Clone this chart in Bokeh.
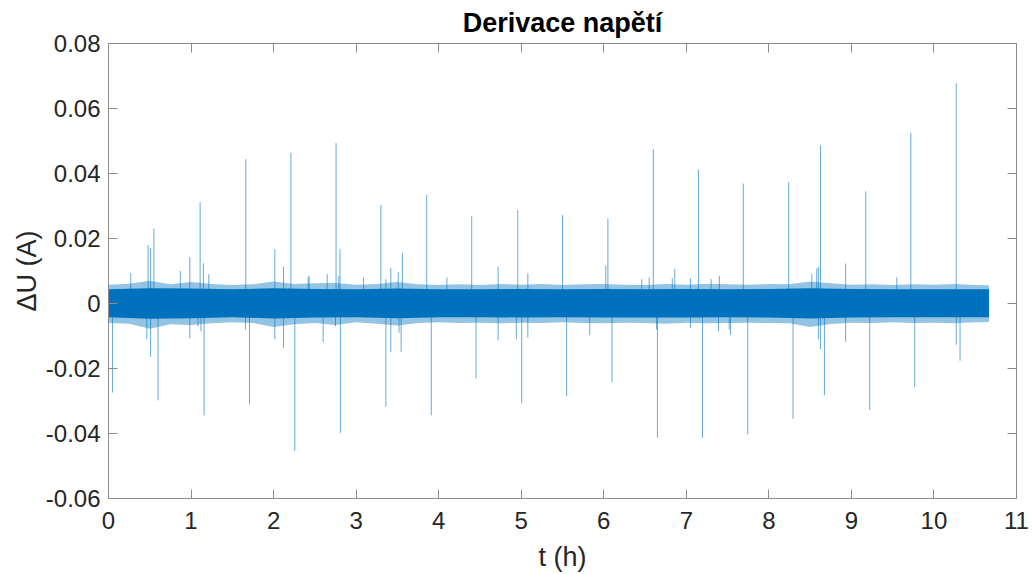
from bokeh.plotting import figure
from bokeh.models import ColumnDataSource, LinearAxis, FixedTicker, PrintfTickFormatter, Title
from bokeh.embed import file_html
from bokeh.resources import INLINE

# ---------------- data ----------------
title_text = "Derivace napětí"
x_label = "t (h)"
y_label = "ΔU (A)"

x_ticks = [0, 1, 2, 3, 4, 5, 6, 7, 8, 9, 10, 11]
x_tick_labels = ["0", "1", "2", "3", "4", "5", "6", "7", "8", "9", "10", "11"]
y_ticks = [-0.06, -0.04, -0.02, 0.0, 0.02, 0.04, 0.06, 0.08]
y_tick_labels = ["-0.06", "-0.04", "-0.02", "0", "0.02", "0.04", "0.06", "0.08"]

# dense core of the noise band (h, A)
core_t = [0.0, 0.5, 1.0, 1.5, 2.0, 2.5, 3.0, 3.5, 4.0, 4.5, 5.0, 5.5, 6.0,
          6.5, 7.0, 7.5, 8.0, 8.5, 9.0, 9.5, 10.0, 10.5, 10.667]
core_hi = [0.0044, 0.0047, 0.0046, 0.0044, 0.0047, 0.0045, 0.0044, 0.0046, 0.0044, 0.0044, 0.0045, 0.0044, 0.0045,
           0.0044, 0.0045, 0.0044, 0.0045, 0.0047, 0.0045, 0.0044, 0.0044, 0.0044, 0.0044]
core_lo = [-0.0042, -0.0047, -0.0045, -0.0042, -0.0046, -0.0043, -0.0042, -0.0045, -0.0042, -0.0042, -0.0043, -0.0042, -0.0043,
           -0.0043, -0.0043, -0.0042, -0.0043, -0.0046, -0.0043, -0.0042, -0.0042, -0.0042, -0.0042]

# ragged outer edge of the noise band (h, A)
edge_t = [0.0, 0.25, 0.5, 0.75, 1.0, 1.25, 1.5, 1.75, 2.0, 2.25, 2.5, 2.75, 3.0, 3.25, 3.5, 3.75,
          4.0, 4.25, 4.5, 4.75, 5.0, 5.25, 5.5, 5.75, 6.0, 6.25, 6.5, 6.75, 7.0, 7.25, 7.5, 7.75,
          8.0, 8.25, 8.5, 8.75, 9.0, 9.25, 9.5, 9.75, 10.0, 10.25, 10.5, 10.667]
edge_hi = [0.0058, 0.0061, 0.0070, 0.0059, 0.0066, 0.0060, 0.0057, 0.0059, 0.0068, 0.0060, 0.0062, 0.0063, 0.0058, 0.0060, 0.0066, 0.0059,
           0.0057, 0.0059, 0.0057, 0.0060, 0.0058, 0.0060, 0.0057, 0.0059, 0.0060, 0.0058, 0.0057, 0.0060, 0.0058, 0.0061, 0.0059, 0.0058,
           0.0060, 0.0059, 0.0068, 0.0062, 0.0058, 0.0059, 0.0057, 0.0059, 0.0058, 0.0060, 0.0057, 0.0056]
edge_lo = [-0.0060, -0.0062, -0.0078, -0.0064, -0.0066, -0.0061, -0.0058, -0.0060, -0.0072, -0.0064, -0.0060, -0.0066, -0.0058, -0.0062, -0.0068, -0.0060,
           -0.0058, -0.0060, -0.0059, -0.0061, -0.0059, -0.0060, -0.0058, -0.0060, -0.0061, -0.0059, -0.0060, -0.0062, -0.0059, -0.0061, -0.0060, -0.0059,
           -0.0060, -0.0061, -0.0072, -0.0063, -0.0059, -0.0060, -0.0058, -0.0060, -0.0059, -0.0061, -0.0058, -0.0057]

# positive spikes (time h, peak A)
pos_t = [0.0, 0.27, 0.48, 0.51, 0.55, 0.87, 0.985, 1.11, 1.15, 1.215, 1.663, 2.015, 2.12, 2.21,
         2.42, 2.43, 2.65, 2.757, 2.79, 2.805, 3.09, 3.30, 3.36, 3.42, 3.51, 3.56, 3.855, 4.10,
         4.40, 4.72, 4.958, 5.08, 5.50, 6.024, 6.05, 6.46, 6.55, 6.60, 6.83, 6.86, 7.05, 7.147,
         7.30, 7.40, 7.69, 8.24, 8.52, 8.58, 8.60, 8.625, 8.93, 9.174, 9.55, 9.72, 10.27]
pos_v = [0.037, 0.0093, 0.018, 0.017, 0.023, 0.010, 0.0143, 0.0312, 0.0124, 0.009, 0.0444, 0.0167, 0.0113, 0.0464,
         0.008, 0.0085, 0.009, 0.0494, 0.0085, 0.0168, 0.008, 0.0303, 0.0075, 0.011, 0.0097, 0.0156, 0.0335, 0.008,
         0.0269, 0.0113, 0.0288, 0.0093, 0.0272, 0.0117, 0.0261, 0.0075, 0.008, 0.0475, 0.0078, 0.0107, 0.0078, 0.0412,
         0.0075, 0.0085, 0.0369, 0.0373, 0.009, 0.0108, 0.0113, 0.0487, 0.0123, 0.0345, 0.008, 0.0526, 0.0678]

# negative spikes (time h, peak A)
neg_t = [0.048, 0.464, 0.51, 0.60, 0.985, 1.085, 1.12, 1.158, 1.66, 1.708, 2.015, 2.12, 2.257, 2.60,
         2.75, 2.81, 3.36, 3.42, 3.52, 3.545, 3.91, 4.453, 4.72, 4.94, 5.006, 5.08, 5.55, 5.83,
         6.10, 6.64, 6.65, 7.05, 7.196, 7.39, 7.52, 7.535, 7.744, 8.293, 8.60, 8.625, 8.673, 8.93,
         9.222, 9.767, 10.27, 10.316]
neg_v = [-0.0274, -0.011, -0.0164, -0.0298, -0.0108, -0.007, -0.0085, -0.0344, -0.008, -0.031, -0.011, -0.0137, -0.0453, -0.012,
         -0.007, -0.0398, -0.0318, -0.015, -0.009, -0.0149, -0.0344, -0.0231, -0.0113, -0.011, -0.0308, -0.0105, -0.0285, -0.0098,
         -0.0242, -0.008, -0.0413, -0.0075, -0.0413, -0.0085, -0.008, -0.0098, -0.0403, -0.0355, -0.011, -0.014, -0.0282, -0.0118,
         -0.0328, -0.0258, -0.0127, -0.0176]

# ---------------- figure ----------------
BLUE = "#0072BD"
AX = "#262626"
FONT = "Liberation Sans"

p = figure(width=1033, height=574, x_range=(0, 11), y_range=(-0.06, 0.08),
           output_backend="svg", toolbar_location=None,
           min_border_left=108, min_border_right=17, min_border_top=43, min_border_bottom=76)
p.background_fill_color = "white"
p.border_fill_color = "white"
p.outline_line_color = None
p.xgrid.visible = False
p.ygrid.visible = False

p.title = Title(text=title_text, align="center", text_font=FONT, text_font_size="27px",
                text_font_style="bold", text_color="black", standoff=11)

edge_src = ColumnDataSource(dict(t=edge_t, hi=edge_hi, lo=edge_lo))
core_src = ColumnDataSource(dict(t=core_t, hi=core_hi, lo=core_lo))
p.varea(x="t", y1="lo", y2="hi", source=edge_src, fill_color=BLUE, fill_alpha=0.42)
p.varea(x="t", y1="lo", y2="hi", source=core_src, fill_color=BLUE, fill_alpha=1.0)

pos_src = ColumnDataSource(dict(t=pos_t, v=pos_v, z=[0.0] * len(pos_t)))
neg_src = ColumnDataSource(dict(t=neg_t, v=neg_v, z=[0.0] * len(neg_t)))
p.segment(x0="t", y0="z", x1="t", y1="v", source=pos_src, line_color=BLUE, line_width=1, line_alpha=0.6)
p.segment(x0="t", y0="z", x1="t", y1="v", source=neg_src, line_color=BLUE, line_width=1, line_alpha=0.6)

xt = FixedTicker(ticks=x_ticks, minor_ticks=[])
yt = FixedTicker(ticks=y_ticks, minor_ticks=[])


def style_axis(ax, labels=True):
    ax.axis_line_color = "#8c8c8c"
    ax.axis_line_width = 1
    ax.major_tick_line_color = "#8c8c8c"
    ax.major_tick_in = 9
    ax.major_tick_out = 0
    ax.minor_tick_line_color = None
    ax.major_label_text_font = FONT
    if labels:
        ax.major_label_text_font_size = "24px"
        ax.major_label_text_color = AX
    else:
        ax.major_label_text_font_size = "1px"
        ax.major_label_text_color = None
        ax.major_label_standoff = 0


xa = p.xaxis[0]
xa.ticker = xt
xa.major_label_overrides = {v: s for v, s in zip(x_ticks, x_tick_labels)}
style_axis(xa)
xa.major_label_standoff = 13
xa.axis_label = x_label
xa.axis_label_text_font = FONT
xa.axis_label_text_font_size = "27px"
xa.axis_label_text_font_style = "normal"
xa.axis_label_text_color = AX
xa.axis_label_standoff = 10

ya = p.yaxis[0]
ya.ticker = yt
ya.formatter = PrintfTickFormatter(format="%g")
ya.major_label_overrides = {v: s for v, s in zip(y_ticks, y_tick_labels)}
style_axis(ya)
ya.major_label_standoff = 8
ya.axis_label = y_label
ya.axis_label_text_font = FONT
ya.axis_label_text_font_size = "27px"
ya.axis_label_text_font_style = "normal"
ya.axis_label_text_color = AX
ya.axis_label_standoff = 1

top = LinearAxis(ticker=xt)
style_axis(top, labels=False)
p.add_layout(top, "above")
right = LinearAxis(ticker=yt)
style_axis(right, labels=False)
p.add_layout(right, "right")

open("out.html", "w").write(file_html(p, INLINE))
